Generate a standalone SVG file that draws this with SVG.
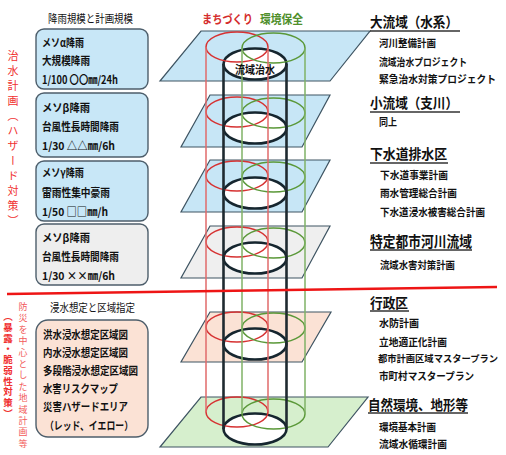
<svg xmlns="http://www.w3.org/2000/svg" width="506" height="455" viewBox="0 0 506 455">
<style>
text{font-family:"Noto Sans CJK JP","Noto Sans CJK SC",sans-serif;fill:#111;}
.t{font-size:11px;}
.tb{font-size:11px;font-weight:bold;}
.h{font-size:14px;font-weight:bold;}
.it{font-size:10.5px;font-weight:bold;}
.box{stroke:#4d5e6b;stroke-width:1.4;}
.blue{fill:#c8e7f7;}
.plane{stroke:#3e5462;stroke-width:1.2;}
.er{fill:none;stroke:#d63232;stroke-width:1.5;}
.eg{fill:none;stroke:#5a9838;stroke-width:1.5;}
.ek{fill:#fff;stroke:#16262f;stroke-width:2.6;}
.vr{stroke:#e06a6a;stroke-width:1.5;}
.vg{stroke:#7fb266;stroke-width:1.5;}
.vk{stroke:#1f2a30;stroke-width:2.6;}
.ul{stroke:#333;stroke-width:1.5;}
.red{fill:#f03030;}
</style>

<!-- planes -->
<g id="plane1"><polygon class="plane" fill="#c7e6f6" points="201,31 370,31 330,81 160,81"/></g>
<g id="plane2"><polygon class="plane" fill="#c7e6f6" points="210,95 330,95 302,147 181,147"/></g>
<g id="plane3"><polygon class="plane" fill="#c7e6f6" points="210,160 330,160 302,212 181,212"/></g>
<g id="plane4"><polygon class="plane" fill="#efefef" points="210,226 330,226 302,278 181,278"/></g>
<g id="plane5"><polygon class="plane" fill="#fbe2d5" points="210,312 331,312 302,362 181,362"/></g>
<g id="plane6"><polygon class="plane" fill="#d6efcd" points="201,397 368,397 328,447 160,447"/></g>

<!-- ellipses -->
<g id="rings">
<ellipse class="ek" cx="255" cy="64" rx="31.5" ry="15.5"/>
<ellipse class="er" cx="237" cy="47" rx="31" ry="15"/>
<ellipse class="eg" cx="273.5" cy="48" rx="31.5" ry="15"/>

<ellipse class="ek" cx="255" cy="128" rx="31.5" ry="15.5"/>
<ellipse class="er" cx="237" cy="112" rx="31" ry="15"/>
<ellipse class="eg" cx="273.5" cy="113" rx="31.5" ry="15"/>

<ellipse class="ek" cx="255" cy="193" rx="31.5" ry="15.5"/>
<ellipse class="er" cx="237" cy="176" rx="31" ry="15"/>
<ellipse class="eg" cx="273.5" cy="177" rx="31.5" ry="15"/>

<ellipse class="ek" cx="255" cy="258" rx="31.5" ry="15.5"/>
<ellipse class="er" cx="237" cy="242" rx="31" ry="15"/>
<ellipse class="eg" cx="273.5" cy="243" rx="31.5" ry="15"/>

<ellipse class="ek" cx="255" cy="344" rx="31.5" ry="15.5"/>
<ellipse class="er" cx="237" cy="327" rx="31" ry="15"/>
<ellipse class="eg" cx="273.5" cy="328" rx="31.5" ry="15"/>

<ellipse class="ek" cx="255" cy="429" rx="31.5" ry="15.5"/>
<ellipse class="er" cx="237" cy="412" rx="31" ry="15"/>
<ellipse class="eg" cx="273.5" cy="414" rx="31.5" ry="15"/>
</g>

<!-- connectors: cylinder sides -->
<g id="connectors">
<line class="vr" x1="206" y1="47" x2="206" y2="412"/>
<line class="vr" x1="268" y1="47" x2="268" y2="412"/>
<line class="vg" x1="242" y1="48" x2="242" y2="414"/>
<line class="vg" x1="305" y1="48" x2="305" y2="414"/>
<line class="vk" x1="223.5" y1="64" x2="223.5" y2="429"/>
<line class="vk" x1="286.5" y1="64" x2="286.5" y2="429"/>
<line x1="7" y1="294" x2="497" y2="287" stroke="#ee1515" stroke-width="2.5"/>
</g>

<g id="core-label"><text class="tb" x="255" y="74" text-anchor="middle" textLength="40" lengthAdjust="spacingAndGlyphs">流域治水</text></g>
<g id="top-labels">
<text x="202" y="24" font-size="12" font-weight="bold" style="fill:#d42c2c" textLength="51" lengthAdjust="spacingAndGlyphs">まちづくり</text>
<text x="260" y="24" font-size="12" font-weight="bold" style="fill:#4f8f2c" textLength="43" lengthAdjust="spacingAndGlyphs">環境保全</text>
</g>

<!-- left side -->
<g id="title-rain"><text class="t" x="48" y="23" textLength="85" lengthAdjust="spacingAndGlyphs">降雨規模と計画規模</text></g>

<g id="box1">
<rect class="box blue" x="36" y="29" width="112" height="60" rx="8"/>
<text class="tb" x="42" y="47" textLength="42" lengthAdjust="spacingAndGlyphs">メソα降雨</text>
<text class="tb" x="42" y="65" textLength="48" lengthAdjust="spacingAndGlyphs">大規模降雨</text>
<text class="tb" x="42" y="84" textLength="76" lengthAdjust="spacingAndGlyphs">1/100 〇〇㎜/24h</text>
</g>
<g id="box2">
<rect class="box blue" x="36" y="93" width="112" height="64" rx="8"/>
<text class="tb" x="42" y="112" textLength="48" lengthAdjust="spacingAndGlyphs">メソβ降雨</text>
<text class="tb" x="42" y="131" textLength="77" lengthAdjust="spacingAndGlyphs">台風性長時間降雨</text>
<text class="tb" x="42" y="150" textLength="73" lengthAdjust="spacingAndGlyphs">1/30  △△㎜/6h</text>
</g>
<g id="box3">
<rect class="box blue" x="36" y="161" width="112" height="60" rx="8"/>
<text class="tb" x="42" y="177" textLength="42" lengthAdjust="spacingAndGlyphs">メソγ降雨</text>
<text class="tb" x="42" y="197" textLength="68" lengthAdjust="spacingAndGlyphs">雷雨性集中豪雨</text>
<text class="tb" x="42" y="216" textLength="66" lengthAdjust="spacingAndGlyphs">1/50  □□㎜/h</text>
</g>
<g id="box4">
<rect class="box" fill="#eeeeee" x="36" y="224" width="112" height="61" rx="8"/>
<text class="tb" x="42" y="242" textLength="48" lengthAdjust="spacingAndGlyphs">メソβ降雨</text>
<text class="tb" x="42" y="261" textLength="77" lengthAdjust="spacingAndGlyphs">台風性長時間降雨</text>
<text class="tb" x="42" y="280" textLength="73" lengthAdjust="spacingAndGlyphs">1/30  ××㎜/6h</text>
</g>

<g id="title-flood"><text class="t" x="50" y="312" textLength="85" lengthAdjust="spacingAndGlyphs">浸水想定と区域指定</text></g>
<g id="box5">
<rect class="box" fill="#fbe2d5" x="36" y="320" width="112" height="117" rx="12"/>
<text class="tb" x="43" y="339" textLength="85" lengthAdjust="spacingAndGlyphs">洪水浸水想定区域図</text>
<text class="tb" x="43" y="357" textLength="85" lengthAdjust="spacingAndGlyphs">内水浸水想定区域図</text>
<text class="tb" x="43" y="375" textLength="95" lengthAdjust="spacingAndGlyphs">多段階浸水想定区域図</text>
<text class="tb" x="43" y="393" textLength="75" lengthAdjust="spacingAndGlyphs">水害リスクマップ</text>
<text class="tb" x="43" y="411" textLength="85" lengthAdjust="spacingAndGlyphs">災害ハザードエリア</text>
<text class="tb" x="45" y="430" textLength="88" lengthAdjust="spacingAndGlyphs">（レッド、イエロー）</text>
</g>

<g id="side-label-top">
<text class="red" x="13" y="50" font-size="11" style="writing-mode:vertical-rl;letter-spacing:4px">治水計画（ハザード対策）</text>
</g>
<g id="side-label-bottom">
<text class="red" x="23" y="302" font-size="9" style="writing-mode:vertical-rl;letter-spacing:2.4px;fill:#f25a5a">防災を中心とした地域計画等</text>
<text class="red" x="8" y="312" font-size="9.5" font-weight="bold" style="writing-mode:vertical-rl;letter-spacing:1.2px">（暴露・脆弱性対策）</text>
</g>

<!-- right side -->
<g id="r-large-basin">
<text class="h" x="370" y="27" textLength="88" lengthAdjust="spacingAndGlyphs">大流域（水系）</text>
<line class="ul" x1="370" y1="31" x2="460" y2="31"/>
<text class="it" x="379" y="47" textLength="57" lengthAdjust="spacingAndGlyphs">河川整備計画</text>
<text class="it" x="379" y="66" textLength="88" lengthAdjust="spacingAndGlyphs">流域治水プロジェクト</text>
<text class="it" x="379" y="83" textLength="117" lengthAdjust="spacingAndGlyphs">緊急治水対策プロジェクト</text>
</g>
<g id="r-small-basin">
<text class="h" x="370" y="108" textLength="88" lengthAdjust="spacingAndGlyphs">小流域（支川）</text>
<line class="ul" x1="370" y1="112" x2="460" y2="112"/>
<text class="it" x="379" y="126" textLength="18" lengthAdjust="spacingAndGlyphs">同上</text>
</g>
<g id="r-sewer">
<text class="h" x="370" y="159" textLength="77" lengthAdjust="spacingAndGlyphs">下水道排水区</text>
<line class="ul" x1="370" y1="163" x2="448" y2="163"/>
<text class="it" x="380" y="179" textLength="68" lengthAdjust="spacingAndGlyphs">下水道事業計画</text>
<text class="it" x="380" y="197" textLength="77" lengthAdjust="spacingAndGlyphs">雨水管理総合計画</text>
<text class="it" x="380" y="216" textLength="105" lengthAdjust="spacingAndGlyphs">下水道浸水被害総合計画</text>
</g>
<g id="r-special">
<text x="370" y="247" font-size="15" font-weight="bold" textLength="102" lengthAdjust="spacingAndGlyphs">特定都市河川流域</text>
<line class="ul" x1="370" y1="250" x2="472" y2="250"/>
<text class="it" x="380" y="269" textLength="75" lengthAdjust="spacingAndGlyphs">流域水害対策計画</text>
</g>
<g id="r-admin">
<text class="h" x="370" y="308" textLength="38" lengthAdjust="spacingAndGlyphs">行政区</text>
<line class="ul" x1="370" y1="311" x2="409" y2="311"/>
<text class="it" x="379" y="327" textLength="40" lengthAdjust="spacingAndGlyphs">水防計画</text>
<text class="it" x="379" y="346" textLength="68" lengthAdjust="spacingAndGlyphs">立地適正化計画</text>
<text x="378" y="362" font-size="9.5" font-weight="bold" textLength="120" lengthAdjust="spacingAndGlyphs">都市計画区域マスタープラン</text>
<text class="it" x="379" y="380" textLength="95" lengthAdjust="spacingAndGlyphs">市町村マスタープラン</text>
</g>
<g id="r-nature">
<text class="h" x="368" y="410" textLength="100" lengthAdjust="spacingAndGlyphs">自然環境、地形等</text>
<line class="ul" x1="368" y1="413" x2="468" y2="413"/>
<text class="it" x="379" y="431" textLength="57" lengthAdjust="spacingAndGlyphs">環境基本計画</text>
<text class="it" x="379" y="448" textLength="68" lengthAdjust="spacingAndGlyphs">流域水循環計画</text>
</g>
</svg>
